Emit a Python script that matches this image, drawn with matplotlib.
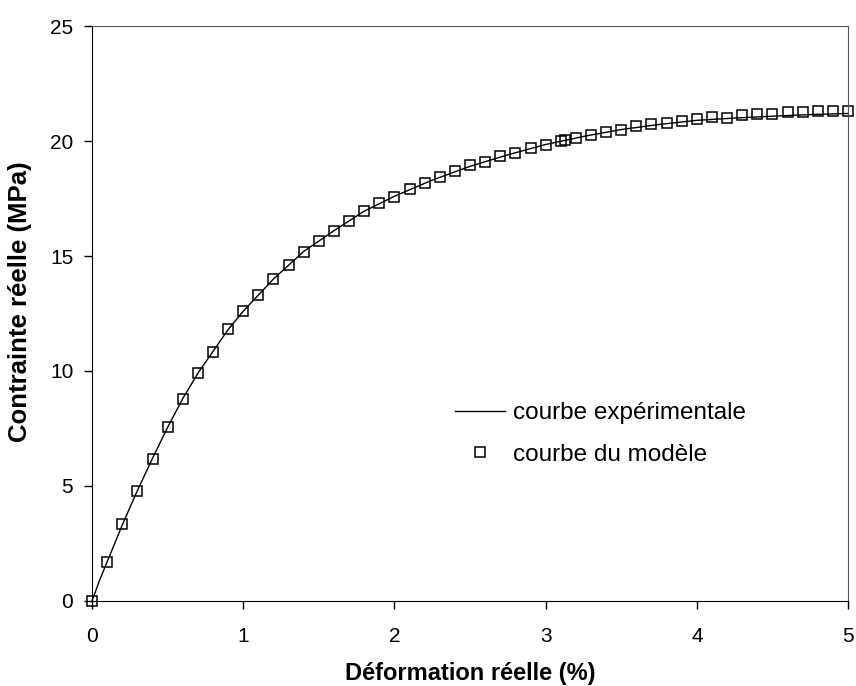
import numpy as np
import matplotlib
matplotlib.use('Agg')
import matplotlib.pyplot as plt

plt.rcParams['font.family'] = ['Liberation Sans', 'DejaVu Sans']

# courbe expérimentale
exp_x = [0, 0.05, 0.1, 0.2, 0.3, 0.4, 0.5, 0.6, 0.7, 0.8, 0.9, 1.0, 1.2, 1.4, 1.6,
         1.8, 2.0, 2.25, 2.5, 2.75, 3.0, 3.25, 3.5, 3.75, 4.0, 4.25, 4.5, 4.75, 5.0]
exp_y = [0, 0.9, 1.7, 3.3, 4.8, 6.2, 7.55, 8.8, 9.9, 10.85, 11.8, 12.6, 14.0, 15.2, 16.1,
         16.95, 17.6, 18.3, 18.9, 19.4, 19.85, 20.2, 20.5, 20.72, 20.9, 21.0, 21.08, 21.15, 21.2]

# courbe du modèle
mod_x = [0, 0.1, 0.2, 0.3, 0.4, 0.5, 0.6, 0.7, 0.8, 0.9, 1.0, 1.1, 1.2, 1.3, 1.4, 1.5,
         1.6, 1.7, 1.8, 1.9, 2.0, 2.1, 2.2, 2.3, 2.4, 2.5, 2.6, 2.7, 2.8, 2.9, 3.0, 3.1,
         3.13, 3.2, 3.3, 3.4, 3.5, 3.6, 3.7, 3.8, 3.9, 4.0, 4.1, 4.2, 4.3, 4.4, 4.5, 4.6,
         4.7, 4.8, 4.9, 5.0]
mod_y = [0, 1.71, 3.33, 4.77, 6.17, 7.57, 8.77, 9.9, 10.84, 11.81, 12.62, 13.32, 14.0,
         14.6, 15.19, 15.64, 16.09, 16.53, 16.94, 17.29, 17.58, 17.91, 18.17, 18.43, 18.7,
         18.94, 19.07, 19.37, 19.5, 19.68, 19.84, 20.01, 20.06, 20.13, 20.26, 20.38, 20.48,
         20.65, 20.73, 20.77, 20.88, 20.94, 21.03, 21.01, 21.14, 21.17, 21.17, 21.26, 21.26,
         21.3, 21.3, 21.3]

fig = plt.figure(figsize=(8.56, 6.86), dpi=100)
ax = fig.add_axes([0.1075, 0.124, 0.8832, 0.838])

ax.plot(exp_x, exp_y, color='black', lw=1.0, label='courbe expérimentale', clip_on=False)
ax.plot(mod_x, mod_y, ls='none', marker='s', ms=7.5, mfc='none', mec='black', mew=1.1,
        label='courbe du modèle', clip_on=False)

ax.set_xlim(0, 5)
ax.set_ylim(0, 25)
ax.set_xticks(range(0, 6))
ax.set_yticks(range(0, 26, 5))
ax.tick_params(direction='out', length=5.5, width=1, labelsize=15)
ax.tick_params(axis='x', pad=13)
ax.tick_params(axis='y', pad=8)

for s in ['top', 'right']:
    ax.spines[s].set_color('#555555')
for s in ['left', 'bottom']:
    ax.spines[s].set_color('black')

ax.set_xlabel('Déformation réelle (%)', fontsize=17, fontweight='bold', labelpad=12)
ax.set_ylabel('Contrainte réelle (MPa)', fontsize=18.5, fontweight='bold')
ax.yaxis.set_label_coords(-0.079, 0.52)

ax.legend(loc='upper left', bbox_to_anchor=(0.451, 0.384), frameon=False, fontsize=17.5,
          handlelength=2.06, handletextpad=0.33, labelspacing=0.8)

fig.savefig('out.png', dpi=100)
